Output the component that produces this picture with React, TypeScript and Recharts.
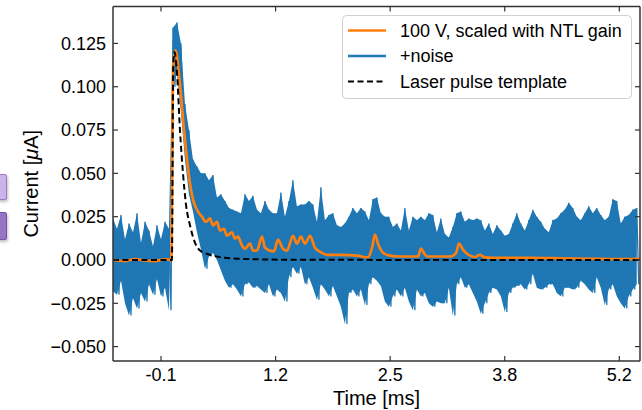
import { ComposedChart, Line, Area, XAxis, YAxis, Legend } from 'recharts';

const FONT = '"Liberation Sans", Arial, sans-serif';
const SPINE = '#333';
const BLUE = '#1f77b4';
const ORANGE = '#ff7f0e';
const TICK_LEN = 5;
const TICK_GAP = 7;

// axes
const X_DOMAIN = [-0.65, 5.387];
const X_TICKS = [-0.1, 1.2125, 2.525, 3.8375, 5.15];
const Y_DOMAIN = [-0.0583, 0.1463];
const Y_TICKS = [-0.05, -0.025, 0, 0.025, 0.05, 0.075, 0.1, 0.125];

const NOISE_T0 = -0.65;
const NOISE_DT = 0.0229;
const NOISE_UA = [
  0.024, -0.018, 0.018, -0.02, 0.026, -0.012, 0.012, -0.025, 0.021, -0.032,
  0.016, -0.022, 0.027, -0.028, 0.01, -0.019, 0.022, -0.024, 0.017, -0.014,
  0.008, -0.02, 0.02, -0.011, 0.012, -0.021, 0.022, -0.016, 0.018, -0.029,
  0.134, 0.1, 0.137, 0.108, 0.125, 0.085, 0.09, 0.058, 0.075, 0.038,
  0.058, 0.028, 0.054, 0.016, 0.05, 0.006, 0.05, -0.005, 0.046, 0.002,
  0.049, 0.004, 0.036, 0.0, 0.038, -0.006, 0.034, -0.012, 0.03, -0.016,
  0.029, -0.014, 0.028, -0.017, 0.027, -0.021, 0.038, -0.014, 0.034, -0.013,
  0.037, -0.016, 0.029, -0.015, 0.027, -0.017, 0.034, -0.019, 0.029, -0.014,
  0.027, -0.021, 0.027, -0.017, 0.039, -0.019, 0.025, -0.024, 0.034, -0.01,
  0.046, -0.004, 0.031, -0.008, 0.032, -0.004, 0.032, -0.014, 0.034, -0.01,
  0.032, -0.016, 0.022, -0.023, 0.042, -0.014, 0.023, -0.017, 0.026, -0.021,
  0.027, -0.015, 0.02, -0.021, 0.019, -0.027, 0.021, -0.037, 0.025, -0.019,
  0.03, -0.017, 0.027, -0.021, 0.03, -0.017, 0.028, -0.026, 0.023, -0.014,
  0.035, -0.01, 0.036, -0.012, 0.027, -0.015, 0.025, -0.024, 0.025, -0.027,
  0.019, -0.021, 0.021, -0.017, 0.017, -0.021, 0.03, -0.016, 0.017, -0.024,
  0.025, -0.029, 0.023, -0.017, 0.025, -0.021, 0.023, -0.019, 0.027, -0.025,
  0.026, -0.027, 0.016, -0.024, 0.024, -0.025, 0.015, -0.025, 0.013, -0.016,
  0.019, -0.032, 0.027, -0.014, 0.028, -0.01, 0.022, -0.016, 0.024, -0.014,
  0.023, -0.019, 0.024, -0.024, 0.023, -0.031, 0.017, -0.025, 0.021, -0.019,
  0.015, -0.016, 0.02, -0.017, 0.017, -0.021, 0.014, -0.03, 0.015, -0.019,
  0.021, -0.016, 0.027, -0.015, 0.021, -0.014, 0.017, -0.017, 0.023, -0.014,
  0.029, -0.008, 0.025, -0.016, 0.022, -0.017, 0.018, -0.016, 0.016, -0.014,
  0.023, -0.014, 0.024, -0.019, 0.027, -0.021, 0.029, -0.016, 0.033, -0.016,
  0.03, -0.017, 0.025, -0.016, 0.023, -0.012, 0.027, -0.014, 0.031, -0.017,
  0.027, -0.019, 0.03, -0.01, 0.026, -0.016, 0.023, -0.026, 0.025, -0.017,
  0.035, -0.014, 0.034, -0.021, 0.021, -0.025, 0.025, -0.028, 0.026, -0.021,
  0.029, -0.017, 0.03, -0.014,
];

// 100 V signal scaled with NTL gain
const SIGNAL_T = [
  -0.65, -0.513, -0.398, -0.283, -0.169, -0.054, 0.02, 0.037, 0.066, 0.095,
  0.129, 0.163, 0.198, 0.232, 0.266, 0.312, 0.369, 0.415, 0.461, 0.495,
  0.541, 0.576, 0.621, 0.656, 0.713, 0.747, 0.782, 0.828, 0.862, 0.919,
  0.954, 0.999, 1.057, 1.091, 1.148, 1.194, 1.24, 1.297, 1.343, 1.412,
  1.458, 1.503, 1.549, 1.607, 1.664, 1.721, 1.801, 1.95, 2.145, 2.271,
  2.317, 2.351, 2.386, 2.443, 2.523, 2.638, 2.844, 2.878, 2.912, 2.947,
  3.21, 3.279, 3.313, 3.359, 3.405, 3.497, 3.554, 3.611, 3.783, 4.127,
  4.47, 4.814, 5.158, 5.387,
];
const SIGNAL_UA = [
  0.0, -0.0006, 0.0005, -0.0003, -0.0006, 0.0004, 0.0, 0.11, 0.121, 0.112,
  0.095, 0.075, 0.058, 0.044, 0.035, 0.029, 0.025, 0.022, 0.024, 0.02,
  0.022, 0.017, 0.018, 0.014, 0.016, 0.0123, 0.0135, 0.0083, 0.0065, 0.0094,
  0.0054, 0.0055, 0.0135, 0.0071, 0.0054, 0.005, 0.0117, 0.0065, 0.0054, 0.014,
  0.0094, 0.0135, 0.0094, 0.014, 0.007, 0.0048, 0.003, 0.003, 0.0025, 0.0015,
  0.007, 0.0146, 0.0094, 0.0042, 0.0025, 0.002, 0.002, 0.0065, 0.004, 0.002,
  0.002, 0.004, 0.0094, 0.006, 0.0036, 0.0017, 0.003, 0.0015, 0.0012, 0.0012,
  0.001, 0.0007, 0.0005, 0.0007,
];

// laser pulse template
const TEMPLATE_T = [-0.65, 0.025, 0.04, 0.054, 0.083, 0.117, 0.152, 0.186, 0.232, 0.289, 0.347, 0.461, 0.633, 0.919, 1.492, 5.387];
const TEMPLATE_UA = [0, 0, 0.112, 0.12, 0.108, 0.075, 0.05, 0.032, 0.02, 0.01, 0.0055, 0.003, 0.0013, 0.0005, 0.0001, 0];

const LEGEND_ROWS = [
  { label: '100 V, scaled with NTL gain', color: ORANGE, dash: undefined, width: 2.5 },
  { label: '+noise', color: BLUE, dash: undefined, width: 2.5 },
  { label: 'Laser pulse template', color: '#000', dash: '6 3.5', width: 2 },
];

const noiseData = NOISE_UA.map((v, i) => ({ t: NOISE_T0 + i * NOISE_DT, v }));
// the same samples taken pairwise as a band (trough .. peak) so the trace reads as solid
const noiseBand = [];
for (let i = 0; i + 1 < NOISE_UA.length; i += 2) {
  noiseBand.push({ t: NOISE_T0 + i * NOISE_DT, band: [NOISE_UA[i + 1], NOISE_UA[i]] });
}
const signalData = SIGNAL_T.map((t, i) => ({ t, v: SIGNAL_UA[i] }));
const templateData = TEMPLATE_T.map((t, i) => ({ t, v: TEMPLATE_UA[i] }));

const fmtY = (v: number) => (v < 0 ? '\u2212' : '') + Math.abs(v).toFixed(3);

function LeftTick({ x, y, payload }: any) {
  return (
    <g>
      <line x1={x + TICK_GAP} x2={x + TICK_GAP + TICK_LEN} y1={y} y2={y} stroke={SPINE} strokeWidth={1.2} />
      <text x={x} y={y} dy="0.355em" textAnchor="end" fontSize={18} fontFamily={FONT} fill="#000">
        {fmtY(payload.value)}
      </text>
    </g>
  );
}

function BottomTick({ x, y, payload }: any) {
  return (
    <g>
      <line x1={x} x2={x} y1={y - TICK_GAP} y2={y - TICK_GAP - TICK_LEN} stroke={SPINE} strokeWidth={1.2} />
      <text x={x} y={y} dy="0.71em" textAnchor="middle" fontSize={18} fontFamily={FONT} fill="#000">
        {payload.value.toFixed(1)}
      </text>
    </g>
  );
}

function TopTick({ x, y }: any) {
  return <line x1={x} x2={x} y1={y} y2={y + TICK_LEN} stroke={SPINE} strokeWidth={1.2} />;
}

function RightTick({ x, y }: any) {
  return <line x1={x - TICK_LEN} x2={x} y1={y} y2={y} stroke={SPINE} strokeWidth={1.2} />;
}

function LegendBox() {
  return (
    <svg width={290} height={84} style={{ display: 'block' }}>
      <rect x={0.5} y={0.5} width={289} height={83} rx={4} fill="rgba(255,255,255,0.8)" stroke="#d0d0d0" />
      {LEGEND_ROWS.map((r, i) => {
        const cy = 15.5 + i * 25.5;
        return (
          <g key={r.label}>
            <line x1={6} x2={44} y1={cy} y2={cy} stroke={r.color} strokeWidth={r.width} strokeDasharray={r.dash} />
            <text x={58} y={cy} dy="0.36em" fontSize={18} fontFamily={FONT} fill="#000">
              {r.label}
            </text>
          </g>
        );
      })}
    </svg>
  );
}

export default function App() {
  return (
    <div style={{ position: 'absolute', left: 0, top: 0, width: 642, height: 410, background: '#fff' }}>
      <div style={{ position: 'absolute', left: -10, top: 174, width: 15, height: 24, background: '#c9b3e8', border: '1px solid #9a7cc6', borderRadius: 2, boxShadow: '1px 2px 3px rgba(0,0,0,0.25)' }} />
      <div style={{ position: 'absolute', left: -10, top: 212, width: 15, height: 26, background: '#9574c3', border: '1px solid #7752ad', borderRadius: 2, boxShadow: '1px 2px 3px rgba(0,0,0,0.25)' }} />
      <ComposedChart width={642} height={410} margin={{ top: 5.5, right: 1, bottom: 0, left: 0 }}>
        <XAxis
          dataKey="t"
          type="number"
          domain={X_DOMAIN}
          ticks={X_TICKS}
          interval={0}
          height={49}
          tickSize={0}
          tickMargin={TICK_GAP}
          tick={<BottomTick />}
          axisLine={{ stroke: SPINE, strokeWidth: 1.5 }}
          allowDataOverflow
          label={{
            content: ({ viewBox }: any) => (
              <text x={viewBox.x + viewBox.width / 2} y={viewBox.y + 44} textAnchor="middle" fontSize={20} fontFamily={FONT} fill="#000">
                Time [ms]
              </text>
            ),
          }}
        />
        <XAxis
          xAxisId="top"
          orientation="top"
          dataKey="t"
          type="number"
          domain={X_DOMAIN}
          ticks={X_TICKS}
          interval={0}
          height={1}
          tickSize={0}
          tickMargin={0}
          tick={<TopTick />}
          axisLine={{ stroke: SPINE, strokeWidth: 1.5 }}
          allowDataOverflow
        />
        <YAxis
          type="number"
          domain={Y_DOMAIN}
          ticks={Y_TICKS}
          interval={0}
          width={113}
          tickSize={0}
          tickMargin={TICK_GAP}
          tick={<LeftTick />}
          axisLine={{ stroke: SPINE, strokeWidth: 1.5 }}
          allowDataOverflow
          label={{
            content: ({ viewBox }: any) => {
              const cx = viewBox.x + 38;
              const cy = viewBox.y + viewBox.height / 2;
              return (
                <text x={cx} y={cy} transform={`rotate(-90, ${cx}, ${cy})`} textAnchor="middle" fontSize={20} fontFamily={FONT} fill="#000">
                  Current [<tspan fontStyle="italic">μ</tspan>A]
                </text>
              );
            },
          }}
        />
        <YAxis
          yAxisId="right"
          orientation="right"
          type="number"
          domain={Y_DOMAIN}
          ticks={Y_TICKS}
          interval={0}
          width={1}
          tickSize={0}
          tickMargin={0}
          tick={<RightTick />}
          axisLine={{ stroke: SPINE, strokeWidth: 1.5 }}
          allowDataOverflow
        />
        <Legend
          layout="vertical"
          align="center"
          verticalAlign="middle"
          wrapperStyle={{ left: 342, top: 15, width: 290, height: 84 }}
          content={() => <LegendBox />}
        />
        <Area
          data={noiseBand}
          dataKey="band"
          xAxisId="top"
          yAxisId="right"
          type="linear"
          stroke="none"
          fill={BLUE}
          fillOpacity={1}
          legendType="none"
          isAnimationActive={false}
        />
        <Line data={noiseData} dataKey="v" name="+noise" xAxisId="top" yAxisId="right" type="linear" stroke={BLUE} strokeWidth={1.3} dot={false} isAnimationActive={false} />
        <Line data={signalData} dataKey="v" name="100 V, scaled with NTL gain" type="monotone" stroke={ORANGE} strokeWidth={2.7} dot={false} isAnimationActive={false} />
        <Line data={templateData} dataKey="v" name="Laser pulse template" type="monotone" stroke="#000" strokeWidth={2} strokeDasharray="6 3.5" dot={false} isAnimationActive={false} />
      </ComposedChart>
    </div>
  );
}
